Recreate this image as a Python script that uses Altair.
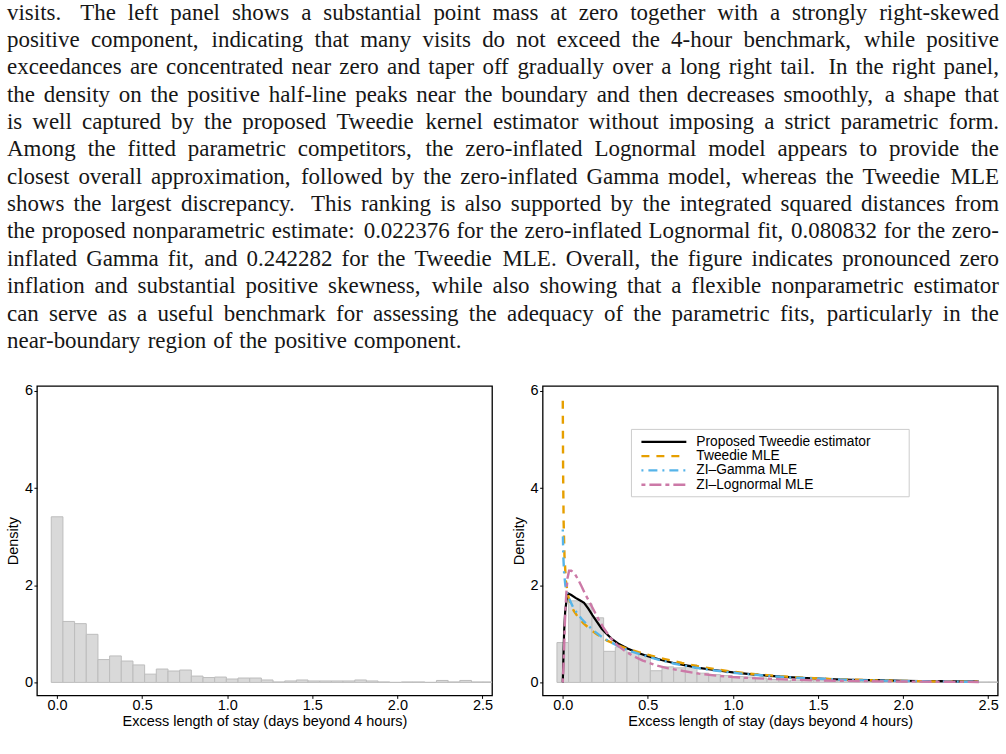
import altair as alt
import pandas as pd

# ---------------- text paragraph (above the figure) ----------------
PARA = [
    "visits.  The left panel shows a substantial point mass at zero together with a strongly right-skewed",
    "positive component, indicating that many visits do not exceed the 4-hour benchmark, while positive",
    "exceedances are concentrated near zero and taper off gradually over a long right tail. In the right panel,",
    "the density on the positive half-line peaks near the boundary and then decreases smoothly, a shape that",
    "is well captured by the proposed Tweedie kernel estimator without imposing a strict parametric form.",
    "Among the fitted parametric competitors, the zero-inflated Lognormal model appears to provide the",
    "closest overall approximation, followed by the zero-inflated Gamma model, whereas the Tweedie MLE",
    "shows the largest discrepancy. This ranking is also supported by the integrated squared distances from",
    "the proposed nonparametric estimate: 0.022376 for the zero-inflated Lognormal fit, 0.080832 for the zero-",
    "inflated Gamma fit, and 0.242282 for the Tweedie MLE. Overall, the figure indicates pronounced zero",
    "inflation and substantial positive skewness, while also showing that a flexible nonparametric estimator",
    "can serve as a useful benchmark for assessing the adequacy of the parametric fits, particularly in the",
    "near-boundary region of the positive component.",
]

# ---------------- histogram data ----------------
BIN_START = -0.0343
BIN_WIDTH = 0.0686
LEFT_HEIGHTS = [3.41, 1.255, 1.21, 0.99, 0.47, 0.545, 0.44, 0.36, 0.17, 0.275,
                0.235, 0.255, 0.13, 0.10, 0.11, 0.07, 0.09, 0.09, 0.05, 0.01,
                0.03, 0.05, 0.03, 0.03, 0.03, 0.03, 0.05, 0.03, 0.01, 0.0,
                0.01, 0.01, 0.0, 0.04, 0.01, 0.04, 0.01, 0.01]
RIGHT_HEIGHTS = [0.82, 1.68, 1.62, 1.33, 0.64, 0.73, 0.62, 0.57, 0.24, 0.32,
                 0.30, 0.36, 0.19, 0.16, 0.14, 0.12, 0.11, 0.09, 0.06, 0.03,
                 0.05, 0.04, 0.05, 0.04, 0.03, 0.03, 0.06, 0.03, 0.02, 0.02,
                 0.02, 0.02, 0.01, 0.03, 0.02, 0.03, 0.01, 0.01]

# ---------------- density curves (right panel) ----------------
SERIES = ["Proposed Tweedie estimator", "Tweedie MLE", "ZI\u2013Gamma MLE", "ZI\u2013Lognormal MLE"]
COLORS = ["#000000", "#E69F00", "#56B4E9", "#CC79A7"]
DASHES = [[1, 0], [8, 7], [2, 5, 9, 5], [4, 4, 12, 4]]
WIDTHS = [2.2, 2.4, 2.4, 2.4]

BLACK_X = [0.0, 0.004, 0.008, 0.014, 0.022, 0.033, 0.05, 0.075, 0.10, 0.125, 0.15, 0.175, 0.20,
           0.23, 0.26, 0.29, 0.33, 0.38, 0.44, 0.50, 0.58, 0.65, 0.73, 0.80, 0.90, 1.0, 1.1,
           1.2, 1.3, 1.4, 1.5, 1.6, 1.7, 1.8, 1.9, 2.0, 2.1, 2.2, 2.3, 2.445]
BLACK_Y = [0.0, 0.55, 1.05, 1.45, 1.7, 1.83, 1.8, 1.74, 1.69, 1.64, 1.52, 1.38, 1.25,
           1.1, 0.99, 0.89, 0.79, 0.70, 0.61, 0.54, 0.46, 0.40, 0.345, 0.30, 0.25, 0.205, 0.17,
           0.14, 0.115, 0.095, 0.08, 0.065, 0.055, 0.047, 0.04, 0.034, 0.029, 0.025, 0.021, 0.017]

TWEEDIE_X = [0.0, 0.002, 0.005, 0.01, 0.018, 0.03, 0.045, 0.065, 0.09, 0.12, 0.16, 0.2, 0.26,
             0.32, 0.38, 0.45, 0.52, 0.6, 0.7, 0.8, 0.9, 1.0, 1.1, 1.2, 1.35, 1.5, 1.65, 1.8,
             2.0, 2.2, 2.445]
TWEEDIE_Y = [5.8, 4.3, 3.3, 2.6, 2.1, 1.8, 1.62, 1.47, 1.34, 1.22, 1.1, 0.99, 0.86,
             0.77, 0.69, 0.62, 0.55, 0.48, 0.40, 0.33, 0.27, 0.22, 0.18, 0.15, 0.11, 0.08, 0.06,
             0.045, 0.03, 0.02, 0.013]

ZIG_X = [0.0, 0.003, 0.008, 0.015, 0.025, 0.04, 0.06, 0.085, 0.11, 0.14, 0.18, 0.22, 0.27,
         0.33, 0.4, 0.47, 0.55, 0.65, 0.75, 0.85, 0.95, 1.05, 1.2, 1.35, 1.5, 1.65, 1.8, 2.0,
         2.2, 2.445]
ZIG_Y = [3.15, 2.6, 2.25, 2.0, 1.85, 1.7, 1.55, 1.42, 1.31, 1.2, 1.07, 0.96, 0.85,
         0.74, 0.64, 0.56, 0.48, 0.39, 0.32, 0.265, 0.22, 0.18, 0.135, 0.1, 0.075, 0.056, 0.042,
         0.028, 0.019, 0.012]

ZILN_X = [0.0, 0.006, 0.012, 0.02, 0.028, 0.037, 0.05, 0.07, 0.09, 0.11, 0.13, 0.15, 0.18,
          0.21, 0.24, 0.28, 0.32, 0.36, 0.41, 0.47, 0.54, 0.62, 0.7, 0.8, 0.9, 1.0, 1.1, 1.2,
          1.35, 1.5, 1.65, 1.8, 2.0, 2.2, 2.445]
ZILN_Y = [0.0, 0.5, 1.2, 1.8, 2.15, 2.3, 2.3, 2.24, 2.12, 1.98, 1.83, 1.7, 1.5,
          1.3, 1.12, 0.92, 0.77, 0.66, 0.55, 0.45, 0.36, 0.29, 0.24, 0.18, 0.14, 0.11, 0.09,
          0.075, 0.055, 0.042, 0.032, 0.025, 0.018, 0.013, 0.009]

CURVES = [(BLACK_X, BLACK_Y), (TWEEDIE_X, TWEEDIE_Y), (ZIG_X, ZIG_Y), (ZILN_X, ZILN_Y)]

X_TICKS = [0.0, 0.5, 1.0, 1.5, 2.0, 2.5]
Y_TICKS = [0, 2, 4, 6]
X_TITLE = "Excess length of stay (days beyond 4 hours)"
Y_TITLE = "Density"

# ---------------- layout constants ----------------
PW, PH = 456, 310                 # plot area of each panel
ORIGIN_X, ORIGIN_Y = 36.0, 385.0  # left panel plot origin on the page
GAP = 50.7
SANS = "Liberation Sans"
SERIF = "Liberation Serif"
FS_R = 14.5
FS_LEG = 13.8

# Times-compatible advance widths (per 1000 em)
TW = {' ': 250, '!': 333, '"': 408, "'": 333, '(': 333, ')': 333, ',': 250, '-': 333, '.': 250,
      '/': 278, ':': 278, ';': 278, '?': 444,
      'A': 722, 'B': 667, 'C': 667, 'D': 722, 'E': 611, 'F': 556, 'G': 722, 'H': 722, 'I': 333,
      'J': 389, 'K': 722, 'L': 611, 'M': 889, 'N': 722, 'O': 722, 'P': 556, 'Q': 722, 'R': 667,
      'S': 556, 'T': 611, 'U': 722, 'V': 722, 'W': 944, 'X': 722, 'Y': 722, 'Z': 611,
      'a': 444, 'b': 500, 'c': 444, 'd': 500, 'e': 444, 'f': 333, 'g': 500, 'h': 500, 'i': 278,
      'j': 278, 'k': 500, 'l': 278, 'm': 778, 'n': 500, 'o': 500, 'p': 500, 'q': 500, 'r': 333,
      's': 389, 't': 278, 'u': 500, 'v': 500, 'w': 722, 'x': 500, 'y': 500, 'z': 444}
for d in "0123456789":
    TW[d] = 500

FS_T = 23.0
TEXT_LEFT, TEXT_RIGHT = 6.0, 1000.0
BASE0, LEAD = 17.8, 27.42


def tw(s):
    return sum(TW.get(c, 500) for c in s) * FS_T / 1000.0


word_rows = []
for k, line in enumerate(PARA):
    words = line.split()
    widths = [tw(w) for w in words]
    yb = BASE0 + k * LEAD - ORIGIN_Y
    if k == len(PARA) - 1:
        gaps = [0.3 * FS_T] * (len(words) - 1)
    else:
        weights = []
        for w in words[:-1]:
            if w.endswith('.') and not (len(w) > 1 and w[-2].isupper()):
                weights.append(1.6)
            elif w.endswith(':'):
                weights.append(1.35)
            elif w.endswith(','):
                weights.append(1.15)
            else:
                weights.append(1.0)
        free = (TEXT_RIGHT - TEXT_LEFT) - sum(widths)
        gaps = [free * wt / sum(weights) for wt in weights]
    xx = TEXT_LEFT - ORIGIN_X
    for i, w in enumerate(words):
        word_rows.append({"word": w, "px": xx, "py": yb})
        if i < len(gaps):
            xx += widths[i] + gaps[i]
words_df = pd.DataFrame(word_rows)


def bars_df(heights):
    return pd.DataFrame({
        "x1": [BIN_START + i * BIN_WIDTH for i in range(len(heights))],
        "x2": [BIN_START + (i + 1) * BIN_WIDTH for i in range(len(heights))],
        "h0": [0.0] * len(heights),
        "h": heights,
    })


X_DOMAIN = [-0.1185, 2.556]
Y_DOMAIN = [-0.267, 6.103]


def x_enc(field):
    return alt.X(field, type="quantitative",
                 scale=alt.Scale(domain=X_DOMAIN, nice=False, zero=False),
                 axis=alt.Axis(values=X_TICKS, format=".1f", title=X_TITLE, grid=False,
                               domain=False, tickSize=3, tickColor="#000", tickWidth=1,
                               labelFont=SANS, labelFontSize=FS_R, labelColor="#000",
                               labelPadding=7, labelBaseline="middle", labelFlush=False,
                               labelOverlap=False,
                               titleFont=SANS, titleFontSize=FS_R, titleFontWeight="normal",
                               titleColor="#000", titleY=26, titleBaseline="middle"))


def y_enc(field):
    return alt.Y(field, type="quantitative",
                 scale=alt.Scale(domain=Y_DOMAIN, nice=False, zero=False),
                 axis=alt.Axis(values=Y_TICKS, format="d", title=Y_TITLE, grid=False,
                               domain=False, tickSize=3, tickColor="#000", tickWidth=1,
                               labelFont=SANS, labelFontSize=FS_R, labelColor="#000",
                               labelPadding=1.5, labelFlush=False, labelOverlap=False,
                               titleFont=SANS, titleFontSize=FS_R, titleFontWeight="normal",
                               titleColor="#000", titleAngle=270, titleX=-23.5, titleY=PH / 2,
                               titleAlign="center", titleBaseline="middle"))


def hist_layer(heights):
    return alt.Chart(bars_df(heights)).mark_rect(
        fill="#d9d9d9", stroke="#bdbdbd", strokeWidth=1, clip=True
    ).encode(x=x_enc("x1"), x2="x2:Q", y=y_enc("h0"), y2="h:Q")


# ---- left panel (with paragraph text and page-size pins) ----
text_layer = alt.Chart(words_df).mark_text(
    align="left", baseline="alphabetic", font=SERIF, fontSize=FS_T, color="#161616"
).encode(
    x=alt.X("px:Q", scale=None, axis=None),
    y=alt.Y("py:Q", scale=None, axis=None),
    text="word:N",
)

pins_df = pd.DataFrame({"px": [-ORIGIN_X + 0.4, 1006 - ORIGIN_X - 0.4],
                        "py": [-ORIGIN_Y + 0.4, 754 - ORIGIN_Y - 0.4]})
pins = alt.Chart(pins_df).mark_point(size=0.5, filled=True, color="white", opacity=1).encode(
    x=alt.X("px:Q", scale=None, axis=None),
    y=alt.Y("py:Q", scale=None, axis=None),
)

left = alt.layer(pins, hist_layer(LEFT_HEIGHTS), text_layer).properties(width=PW, height=PH)

# ---- right panel ----
layers = [hist_layer(RIGHT_HEIGHTS)]
for (cx, cy), name, col, dash, sw in zip(CURVES, SERIES, COLORS, DASHES, WIDTHS):
    df = pd.DataFrame({"x": cx, "y": cy, "o": list(range(len(cx)))})
    mk = dict(color=col, strokeWidth=sw)
    if name != SERIES[0]:
        mk["strokeDash"] = dash
    layers.append(alt.Chart(df).mark_line(**mk).encode(
        x=x_enc("x"), y=y_enc("y"), order="o:Q"))

one = pd.DataFrame({"a": [0]})
LEG_X0, LEG_X1, LEG_Y0, LEG_Y1 = 89, 367.3, 43.5, 111
ROW_Y = [56.0, 70.3, 84.6, 98.9]
layers.append(alt.Chart(one).mark_rect(fill="white", stroke="#cccccc", strokeWidth=1).encode(
    x=alt.value(LEG_X0), x2=alt.value(LEG_X1), y=alt.value(LEG_Y0), y2=alt.value(LEG_Y1)))
for name, col, dash, sw, ry in zip(SERIES, COLORS, DASHES, WIDTHS, ROW_Y):
    mk = dict(color=col, strokeWidth=sw)
    if name != SERIES[0]:
        mk["strokeDash"] = dash
    layers.append(alt.Chart(one).mark_rule(**mk).encode(
        x=alt.value(99), x2=alt.value(144), y=alt.value(ry)))
    layers.append(alt.Chart(one).mark_text(
        align="left", baseline="middle", font=SANS, fontSize=FS_LEG, color="#000"
    ).encode(x=alt.value(154), y=alt.value(ry), text=alt.value(name)))

right = alt.layer(*layers).properties(width=PW, height=PH)

chart = alt.HConcatChart(hconcat=[left, right], spacing=GAP, bounds="flush").properties(
    padding=0, background="white"
).configure_view(stroke="#000", strokeWidth=1.3)

chart.save("out.html", embed_options={"renderer": "svg", "actions": False})
